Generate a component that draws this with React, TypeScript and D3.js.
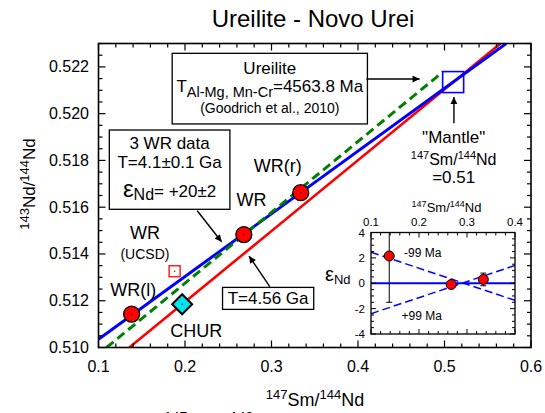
import React from 'react';
import * as d3 from 'd3';

const FONT = '"Liberation Sans", Arial, Helvetica, sans-serif';

// main axes
const xTicks = [0.1, 0.2, 0.3, 0.4, 0.5, 0.6];
const yTicks = [0.510, 0.512, 0.514, 0.516, 0.518, 0.520, 0.522];

// whole-rock data
const wrNames = ['WR(l)', 'WR', 'WR(r)'];
const wrSm = [0.1383, 0.268, 0.3338];
const wrNd = [0.51143, 0.51483, 0.51662];

const churSm = 0.1967;
const churNd = 0.51185;
const ucsdSm = 0.188;
const ucsdNd = 0.51326;
const mantleSm = 0.51;
const mantleNd = 0.52135;

// isochrons (end points)
const iso456Sm = [0.1356, 0.5647];
const iso456Nd = [0.510, 0.523];
const iso41Sm = [0.1, 0.5713];
const iso41Nd = [0.51035, 0.523];
const refSm = [0.1093, 0.498];
const refNd = [0.510, 0.52178];

// inset: epsilon Nd deviations
const insetTicks = [0.1, 0.2, 0.3, 0.4];
const insetYTicks = [4, 2, 0, -2, -4];
const insetSm = [0.138, 0.267, 0.334];
const insetEps = [2.15, -0.1, 0.3];
const insetErr = [3.65, 0.15, 0.5];
const insetRefSm = [0.1, 0.4];
const insetMinus99 = [2.45, -1.35];
const insetPlus99 = [-2.4, 1.4];

// annotation anchors (data units)
const ureiliteBox = { sm: [0.1852, 0.4109], nd: [0.52258, 0.51956] };
const wr3Box = { sm: [0.1125, 0.2519], nd: [0.5193, 0.51591] };
const t456Box = { sm: [0.2434, 0.3488], nd: [0.51257, 0.51163] };
const arrows = [
  { sm: [0.4097, 0.4712], nd: [0.52148, 0.52148] },
  { sm: [0.5109, 0.5109], nd: [0.51959, 0.52071] },
  { sm: [0.2141, 0.2423], nd: [0.51585, 0.51452] },
  { sm: [0.298, 0.2741], nd: [0.5126, 0.51391] },
];

const wrLabelOffset = [[1.6, -18], [7.7, -29], [-23, -20.7]];

const Iso = ({ a, b, main, sup, x, y, anchor = 'middle', size = 16, supSize = 11, ...rest }: any) => {
  const r = size * 0.38;
  return (
    <text x={x} y={y} textAnchor={anchor} fontFamily={FONT} {...rest}>
      <tspan fontSize={supSize} dy={-r}>{a}</tspan>
      <tspan fontSize={size} dy={r}>{main[0]}</tspan>
      <tspan fontSize={supSize} dy={-r}>{b}</tspan>
      <tspan fontSize={size} dy={r}>{main[1]}</tspan>
    </text>
  );
};

export default function App() {
  const x = d3.scaleLinear().domain([0.1, 0.6]).range([98.5, 531]);
  const y = d3.scaleLinear().domain([0.510, 0.523]).range([347.5, 43.5]);
  const line = d3.line<[number, number]>().x(d => x(d[0])).y(d => y(d[1]));

  const ix = d3.scaleLinear().domain([0.1, 0.4]).range([371, 515]);
  const iy = d3.scaleLinear().domain([-4, 4]).range([334, 232.5]);
  const iline = d3.line<[number, number]>().x(d => ix(d[0])).y(d => iy(d[1]));

  const [x0, x1] = x.range();
  const [y0, y1] = y.range();
  const xMinor = d3.range(0, 26).map(i => 0.1 + i * 0.02);
  const yMinor = d3.range(0, 27).map(i => 0.510 + i * 0.0005);
  const ixMinor = d3.range(0, 16).map(i => 0.1 + i * 0.02);
  const iyMinor = d3.range(0, 17).map(i => -4 + i * 0.5);
  const near = (v: number, arr: number[]) => arr.some(t => Math.abs(t - v) < 1e-7);

  const pts = (sm: number[], nd: number[]) => sm.map((s, i) => [s, nd[i]] as [number, number]);

  const box = (b: any) => ({
    x: x(b.sm[0]), y: y(b.nd[0]),
    width: x(b.sm[1]) - x(b.sm[0]), height: y(b.nd[1]) - y(b.nd[0]),
  });
  const ub = box(ureiliteBox);
  const wb = box(wr3Box);
  const tb = box(t456Box);

  return (
    <svg width={545} height={413} style={{ position: 'absolute', left: 0, top: 0, background: '#fff' }}
      fontFamily={FONT}>
      <defs>
        <marker id="arr" viewBox="0 0 10 10" refX="10" refY="5" markerWidth="11" markerHeight="7"
          markerUnits="userSpaceOnUse" orient="auto">
          <path d="M0,0L10,5L0,10z" fill="#000" />
        </marker>
        <clipPath id="plotClip"><rect x={x0} y={y1} width={x1 - x0} height={y0 - y1} /></clipPath>
        <clipPath id="insetClip"><rect x={371} y={232.5} width={144} height={101.5} /></clipPath>
      </defs>

      <text x={313} y={27} textAnchor="middle" fontSize={24}>Ureilite - Novo Urei</text>

      {/* isochrons */}
      <g clipPath="url(#plotClip)">
        <path d={line(pts(iso456Sm, iso456Nd)) || ''} stroke="#f00" strokeWidth={2.6} fill="none" />
        <path d={line(pts(iso41Sm, iso41Nd)) || ''} stroke="#0000ff" strokeWidth={3} fill="none" />
        <path d={line(pts(refSm, refNd)) || ''} stroke="#008000" strokeWidth={3} strokeDasharray="9,5" fill="none" />
      </g>

      {/* frame + ticks */}
      <rect x={x0} y={y1} width={x1 - x0} height={y0 - y1} fill="none" stroke="#000" strokeWidth={1.6} />
      {xMinor.map((v, i) => {
        const L = near(v, xTicks) ? 7 : 4;
        return (
          <g key={'xt' + i} stroke="#000" strokeWidth={1.2}>
            <line x1={x(v)} x2={x(v)} y1={y0} y2={y0 - L} />
            <line x1={x(v)} x2={x(v)} y1={y1} y2={y1 + L} />
          </g>
        );
      })}
      {yMinor.map((v, i) => {
        const L = near(v, yTicks) ? 7 : 4;
        return (
          <g key={'yt' + i} stroke="#000" strokeWidth={1.2}>
            <line x1={x0} x2={x0 + L} y1={y(v)} y2={y(v)} />
            <line x1={x1} x2={x1 - L} y1={y(v)} y2={y(v)} />
          </g>
        );
      })}
      {xTicks.map(v => (
        <text key={'xl' + v} x={x(v)} y={372} textAnchor="middle" fontSize={16}>{v.toFixed(1)}</text>
      ))}
      {yTicks.map(v => (
        <text key={'yl' + v} x={89} y={y(v) + 5.5} textAnchor="end" fontSize={16}>{v.toFixed(3)}</text>
      ))}
      <Iso a="147" b="144" main={['Sm/', 'Nd']} x={315} y={406} size={18} supSize={13} />
      <Iso a="143" b="144" main={['Nd/', 'Nd']} x={0} y={0} size={17} supSize={13}
        transform="translate(35,184) rotate(-90)" />
      {/* caption line cut off at the bottom edge, as in the source figure */}
      <text x={164} y={433} fontSize={24}>
        <tspan fontSize={14} dy={-11.5}>147</tspan>
        <tspan dy={11.5}>Sm/</tspan>
        <tspan fontSize={14} dy={-11.5}>143</tspan>
        <tspan dy={11.5}>Nd</tspan>
      </text>

      {/* annotation boxes */}
      <rect {...ub} fill="#fff" stroke="#000" strokeWidth={1.3} />
      <text x={ub.x + ub.width / 2} y={ub.y + 20.5} textAnchor="middle" fontSize={17}>Ureilite</text>
      <text x={ub.x + ub.width / 2} y={ub.y + 39} textAnchor="middle" fontSize={17}>
        T<tspan fontSize={14.5} dy={4.5}>Al-Mg, Mn-Cr</tspan><tspan dy={-4.5}>=4563.8 Ma</tspan>
      </text>
      <text x={ub.x + ub.width / 2} y={ub.y + 60} textAnchor="middle" fontSize={14}>(Goodrich et al., 2010)</text>

      <rect {...wb} fill="#fff" stroke="#000" strokeWidth={1.3} />
      <text x={wb.x + wb.width / 2} y={wb.y + 18.5} textAnchor="middle" fontSize={17}>3 WR data</text>
      <text x={wb.x + wb.width / 2} y={wb.y + 37.5} textAnchor="middle" fontSize={17}>T=4.1±0.1 Ga</text>
      <text x={wb.x + wb.width / 2} y={wb.y + 66.5} textAnchor="middle" fontSize={17}>
        <tspan fontSize={24}>ε</tspan><tspan fontSize={16} dy={3.5}>Nd</tspan><tspan dy={-3.5}>= +20±2</tspan>
      </text>

      <rect {...tb} fill="#fff" stroke="#000" strokeWidth={1.3} />
      <text x={tb.x + tb.width / 2} y={tb.y + 17} textAnchor="middle" fontSize={17}>T=4.56 Ga</text>

      {arrows.map((a, i) => (
        <line key={'ar' + i} x1={x(a.sm[0])} y1={y(a.nd[0])} x2={x(a.sm[1])} y2={y(a.nd[1])}
          stroke="#000" strokeWidth={1.4} markerEnd="url(#arr)" />
      ))}

      {/* points */}
      <g>
        <rect x={x(ucsdSm) - 5.5} y={y(ucsdNd) - 5.5} width={11} height={11} fill="#fff" stroke="#f00" strokeWidth={1.3} />
        <circle cx={x(ucsdSm)} cy={y(ucsdNd)} r={0.8} fill="#a00" />
        <text x={x(ucsdSm) - 29.7} y={y(ucsdNd) - 32.3} textAnchor="middle" fontSize={18}>WR</text>
        <text x={x(ucsdSm) - 29.7} y={y(ucsdNd) - 12.3} textAnchor="middle" fontSize={14}>(UCSD)</text>

        <path d={`M${x(churSm)},${y(churNd) - 10}L${x(churSm) + 10},${y(churNd)}L${x(churSm)},${y(churNd) + 10}L${x(churSm) - 10},${y(churNd)}Z`}
          fill="#00e5ee" stroke="#000" strokeWidth={2} />
        <circle cx={x(churSm)} cy={y(churNd)} r={0.8} fill="#033" />
        <text x={x(churSm) + 14} y={y(churNd) + 33} textAnchor="middle" fontSize={18}>CHUR</text>

        <rect x={x(mantleSm) - 10.5} y={y(mantleNd) - 10.5} width={21} height={21} fill="none" stroke="#0000ff" strokeWidth={1.6} />
        <circle cx={x(mantleSm)} cy={y(mantleNd)} r={1} fill="#0000aa" />
        <text x={x(mantleSm) + 0.5} y={y(mantleNd) + 61.3} textAnchor="middle" fontSize={17}>"Mantle"</text>
        <Iso a="147" b="144" main={['Sm/', 'Nd']} x={x(mantleSm) + 0.5} y={y(mantleNd) + 83} size={16} supSize={11} />
        <text x={x(mantleSm) + 0.5} y={y(mantleNd) + 100.7} textAnchor="middle" fontSize={17}>=0.51</text>

        {wrSm.map((s, i) => (
          <g key={'wr' + i}>
            <circle cx={x(s)} cy={y(wrNd[i])} r={8} fill="#f00" stroke="#000" strokeWidth={1.3} />
            <circle cx={x(s)} cy={y(wrNd[i])} r={0.8} fill="#600" />
            <text x={x(s) + wrLabelOffset[i][0]} y={y(wrNd[i]) + wrLabelOffset[i][1]} textAnchor="middle" fontSize={18}>
              {wrNames[i]}
            </text>
          </g>
        ))}
      </g>

      {/* inset */}
      <g>
        <rect x={371} y={232.5} width={144} height={101.5} fill="#fff" stroke="none" />
        <g clipPath="url(#insetClip)">
          <line x1={ix(0.1)} x2={ix(0.4)} y1={iy(0)} y2={iy(0)} stroke="#0000ff" strokeWidth={1.8} />
          <path d={iline(pts(insetRefSm, insetMinus99)) || ''} stroke="#0000ff" strokeWidth={1.5} strokeDasharray="8,4" fill="none" />
          <path d={iline(pts(insetRefSm, insetPlus99)) || ''} stroke="#0000ff" strokeWidth={1.5} strokeDasharray="8,4" fill="none" />
          {insetSm.map((s, i) => (
            <g key={'ie' + i} stroke="#000" strokeWidth={1}>
              <line x1={ix(s)} x2={ix(s)} y1={iy(insetEps[i] + insetErr[i])} y2={iy(insetEps[i] - insetErr[i])} />
              <line x1={ix(s) - 3} x2={ix(s) + 3} y1={iy(insetEps[i] + insetErr[i])} y2={iy(insetEps[i] + insetErr[i])} />
              <line x1={ix(s) - 3} x2={ix(s) + 3} y1={iy(insetEps[i] - insetErr[i])} y2={iy(insetEps[i] - insetErr[i])} />
            </g>
          ))}
          {insetSm.map((s, i) => (
            <g key={'ip' + i}>
              <circle cx={ix(s)} cy={iy(insetEps[i])} r={5} fill="#f00" stroke="#000" strokeWidth={1} />
              <circle cx={ix(s)} cy={iy(insetEps[i])} r={0.6} fill="#600" />
            </g>
          ))}
        </g>
        <rect x={371} y={232.5} width={144} height={101.5} fill="none" stroke="#000" strokeWidth={1.3} />
        {ixMinor.map((v, i) => {
          const L = near(v, insetTicks) ? 5 : 3;
          return (
            <g key={'ixt' + i} stroke="#000" strokeWidth={1}>
              <line x1={ix(v)} x2={ix(v)} y1={334} y2={334 - L} />
              <line x1={ix(v)} x2={ix(v)} y1={232.5} y2={232.5 + L} />
            </g>
          );
        })}
        {iyMinor.map((v, i) => {
          const L = near(v, insetYTicks) ? 5 : 3;
          return (
            <g key={'iyt' + i} stroke="#000" strokeWidth={1}>
              <line x1={371} x2={371 + L} y1={iy(v)} y2={iy(v)} />
              <line x1={515} x2={515 - L} y1={iy(v)} y2={iy(v)} />
            </g>
          );
        })}
        {insetTicks.map(v => (
          <text key={'ixl' + v} x={ix(v)} y={226} textAnchor="middle" fontSize={11.5}>{v.toFixed(1)}</text>
        ))}
        {insetYTicks.map(v => (
          <text key={'iyl' + v} x={365} y={iy(v) + 4} textAnchor="end" fontSize={11.5}>{v}</text>
        ))}
        <Iso a="147" b="144" main={['Sm/', 'Nd']} x={446.5} y={211.5} size={13} supSize={9} />
        <text x={325} y={280.5} fontSize={13}>
          <tspan fontSize={20}>ε</tspan><tspan dy={3.5}>Nd</tspan>
        </text>
        <text x={404} y={257} fontSize={12}>-99 Ma</text>
        <text x={401.5} y={320} fontSize={12}>+99 Ma</text>
      </g>
    </svg>
  );
}
